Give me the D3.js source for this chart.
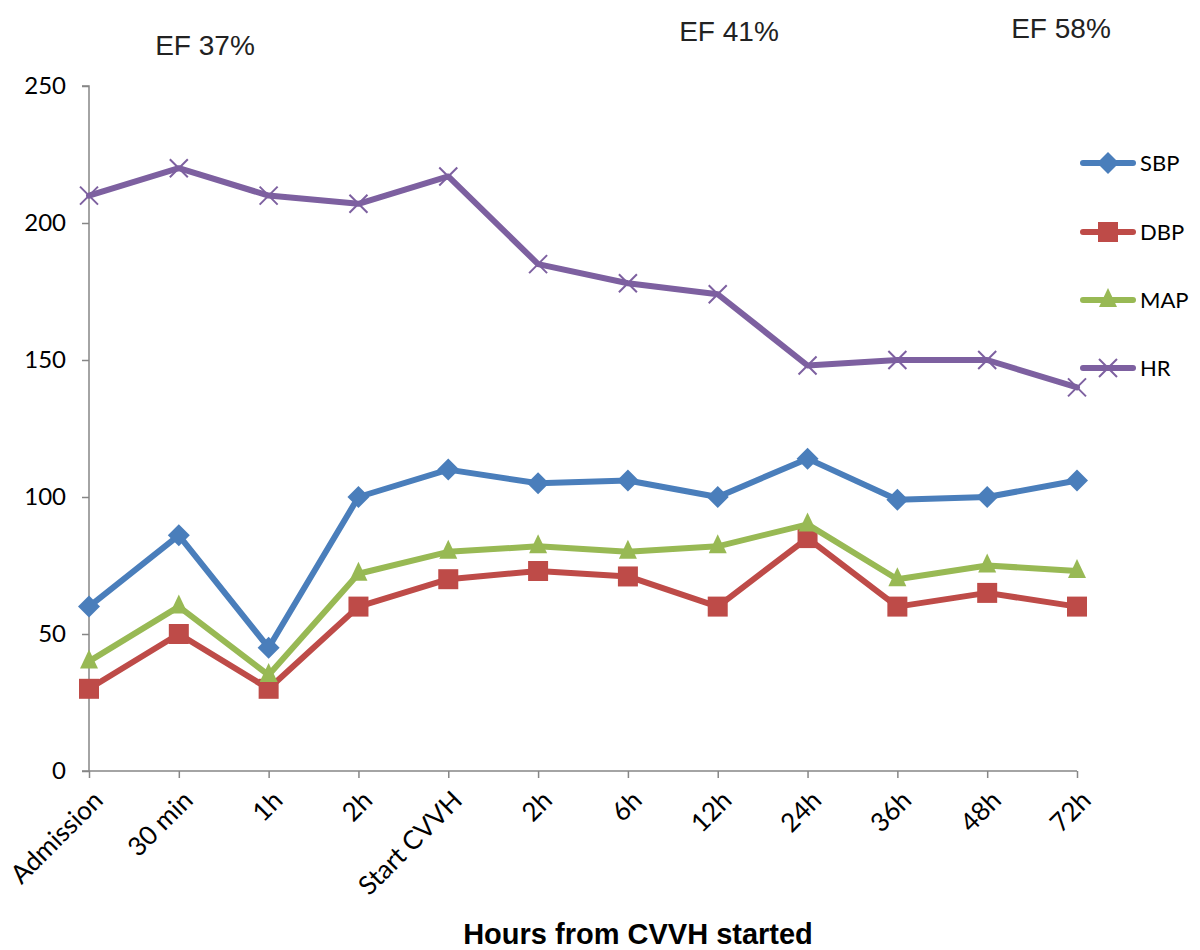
<!DOCTYPE html>
<html><head><meta charset="utf-8">
<script src="https://cdn.jsdelivr.net/npm/d3@7"></script>
<style>body{margin:0;background:#fff}</style>
</head><body>
<script>
const categories = ["Admission","30 min","1h","2h","Start CVVH","2h","6h","12h","24h","36h","48h","72h"];
const sbp = [60,86,45,100,110,105,106,100,114,99,100,106];
const dbp = [30,50,30,60,70,73,71,60,85,60,65,60];
const map = [40,60,35,72,80,82,80,82,90,70,75,73];
const hr  = [210,220,210,207,217,185,178,174,148,150,150,140];
const yTicks = [0,50,100,150,200,250];
const seriesNames = ["SBP","DBP","MAP","HR"];
const efLabels = ["EF 37%","EF 41%","EF 58%"];

const series = [
  {name:"SBP", values:sbp, color:"#4a7ebb", marker:"diamond"},
  {name:"DBP", values:dbp, color:"#be4b48", marker:"square"},
  {name:"MAP", values:map, color:"#98b954", marker:"triangle"},
  {name:"HR",  values:hr,  color:"#7d60a0", marker:"x"}
];

const W=1200,H=950;
const svg=d3.select("body").append("svg").attr("width",W).attr("height",H);
const idx = categories.map((c,i)=>i);
const x=d3.scalePoint().domain(idx).range([89,1077]);
const y=d3.scaleLinear().domain([0,250]).range([771,86]);
const font="Lato, 'Open Sans', sans-serif";

// y axis
const ya=svg.append("g").attr("transform","translate(89,0)")
  .call(d3.axisLeft(y).tickValues(yTicks).tickSize(7).tickPadding(16));
ya.select(".domain").attr("stroke","#868686").attr("stroke-width",1.5).attr("d","M-7,86H0V771H-7");
ya.selectAll(".tick line").attr("stroke","#868686").attr("stroke-width",1.5);
ya.selectAll(".tick text").attr("font-family",font).attr("font-size",24).attr("fill","#000");

// x axis
const xa=svg.append("g").attr("transform","translate(0,771)")
  .call(d3.axisBottom(x).tickSize(7).tickFormat(i=>categories[i]));
xa.select(".domain").attr("stroke","#868686").attr("stroke-width",1.5).attr("d","M89,0H1077");
xa.selectAll(".tick line").attr("stroke","#868686").attr("stroke-width",1.5);
xa.selectAll(".tick text").attr("font-family",font).attr("font-size",26).attr("fill","#000")
  .attr("text-anchor","end").attr("dy",0).attr("transform","translate(8,24) rotate(-45)");

function drawMarker(g,type,color){
  if(type==="x"){
    g.append("path").attr("d","M-9,-9L9,9M-9,9L9,-9").attr("stroke",color).attr("stroke-width",2).attr("fill","none");
  } else if(type==="diamond"){
    g.append("path").attr("d","M0,-11L11,0L0,11L-11,0Z").attr("fill",color);
  } else if(type==="square"){
    g.append("path").attr("d","M-10,-10H10V10H-10Z").attr("fill",color);
  } else {
    g.append("path").attr("d","M0,-12L9,7H-9Z").attr("fill",color);
  }
}

const line=d3.line().x((d,i)=>x(i)).y(d=>y(d));
series.forEach(s=>{
  svg.append("path").datum(s.values).attr("d",line).attr("fill","none")
    .attr("stroke",s.color).attr("stroke-width",6).attr("stroke-linejoin","round").attr("stroke-linecap","round");
  s.values.forEach((v,i)=>{
    const g=svg.append("g").attr("transform",`translate(${x(i)},${y(v)})`);
    drawMarker(g,s.marker,s.color);
  });
});

// legend
const legY=[163,232,300,368];
series.forEach((s,k)=>{
  const g=svg.append("g");
  g.append("line").attr("x1",1083).attr("x2",1133).attr("y1",legY[k]).attr("y2",legY[k])
    .attr("stroke",s.color).attr("stroke-width",6).attr("stroke-linecap","round");
  const m=g.append("g").attr("transform",`translate(1108,${legY[k]})`);
  drawMarker(m,s.marker,s.color);
  g.append("text").attr("x",1140).attr("y",legY[k]+8).attr("font-family",font).attr("font-size",22)
    .attr("fill","#000").text(seriesNames[k]);
});

// EF labels
const efPos=[[205,55],[729,41],[1061,38]];
efLabels.forEach((t,k)=>{
  svg.append("text").attr("x",efPos[k][0]).attr("y",efPos[k][1]).attr("text-anchor","middle")
    .attr("font-family","'Liberation Sans', Arial, sans-serif").attr("font-size",28).attr("fill","#222").text(t);
});

// axis title
svg.append("text").attr("x",638).attr("y",944).attr("text-anchor","middle")
  .attr("font-family","'Liberation Sans', Arial, sans-serif").attr("font-weight","bold").attr("font-size",29)
  .attr("fill","#000").text("Hours from CVVH started");
</script>
</body></html>
